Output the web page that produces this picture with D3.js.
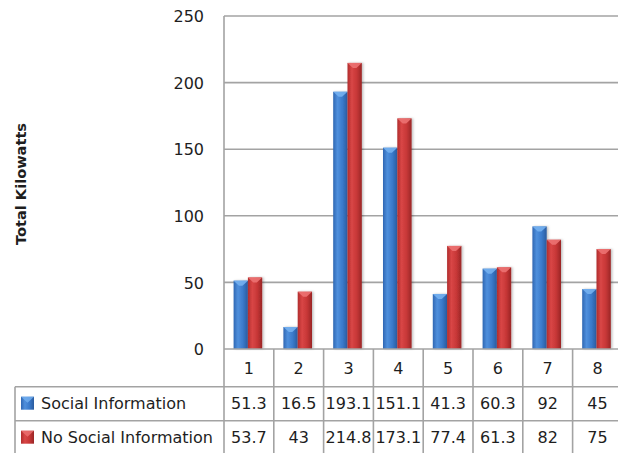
<!DOCTYPE html>
<html>
<head>
<meta charset="utf-8">
<script src="https://cdn.jsdelivr.net/npm/d3@7"></script>
<style>
  html, body { margin: 0; padding: 0; background: #fff; }
  svg { display: block; }
  text { font-family: "DejaVu Sans", sans-serif; fill: #1e1e1e; }
</style>
</head>
<body>
<svg id="chart" width="618" height="453"></svg>
<script>
// Energy use per household group, with and without social information
const categories = ["1", "2", "3", "4", "5", "6", "7", "8"];
const seriesNames = ["Social Information", "No Social Information"];
const socialInfo = [51.3, 16.5, 193.1, 151.1, 41.3, 60.3, 92, 45];
const noSocialInfo = [53.7, 43, 214.8, 173.1, 77.4, 61.3, 82, 75];
const yTicks = [0, 50, 100, 150, 200, 250];
const yTitle = "Total Kilowatts";

const seriesValues = [socialInfo, noSocialInfo];

const svg = d3.select("#chart");
const W = 618, H = 453;

const plotLeft = 224;
const colW = 49.8;
const plotRight = plotLeft + colW * categories.length;
const plotTop = 16, plotBottom = 349;
const rowH = [37.7, 34, 34];          // category row, series rows
const tableLeft = 15;
const gridColor = "#a3a3a3";

const x = d3.scaleBand().domain(categories).range([plotLeft, plotRight]).paddingInner(0).paddingOuter(0);
const xs = d3.scaleBand().domain(seriesNames).range([0, 28.6]);
const groupOffset = (colW - 28.6) / 2 - 1;
const y = d3.scaleLinear().domain([0, 250]).range([plotBottom, plotTop]);

// gradients for the shaded bars and legend keys
const defs = svg.append("defs");
const palettes = [
  { id: "g0", stops: ["#2f67b3", "#4f8fdc", "#3a7acb", "#2a5b9e"], cap: "#74b0f0" },
  { id: "g1", stops: ["#b02c2c", "#d94646", "#c73737", "#9a2626"], cap: "#ec7272" }
];
palettes.forEach(p => {
  const g = defs.append("linearGradient").attr("id", p.id)
    .attr("x1", "0%").attr("x2", "100%").attr("y1", "0%").attr("y2", "0%");
  [0, 0.3, 0.65, 1].forEach((o, i) => g.append("stop").attr("offset", o).attr("stop-color", p.stops[i]));
});
const sh = defs.append("filter").attr("id", "shadow").attr("x", "-30%").attr("y", "-10%").attr("width", "160%").attr("height", "120%");
sh.append("feDropShadow").attr("dx", 1.5).attr("dy", 0).attr("stdDeviation", 1.2).attr("flood-color", "#000").attr("flood-opacity", 0.25);

// horizontal gridlines
svg.append("g").selectAll("line").data(yTicks.filter(d => d > 0)).join("line")
  .attr("x1", plotLeft).attr("x2", W)
  .attr("y1", d => y(d)).attr("y2", d => y(d))
  .attr("stroke", gridColor).attr("stroke-width", 1.6);

// y-axis tick labels
const yAxis = d3.axisLeft(y).tickValues(yTicks).tickSize(0).tickPadding(0);
const yg = svg.append("g").attr("transform", `translate(${plotLeft - 20},0)`).call(yAxis);
yg.select(".domain").remove();
yg.selectAll("text").attr("font-size", 16).attr("font-family", "DejaVu Sans, sans-serif").attr("fill", "#1e1e1e").attr("dy", "0.35em");

// axis title
svg.append("text")
  .attr("transform", `translate(26,184) rotate(-90)`)
  .attr("text-anchor", "middle")
  .attr("font-weight", "bold").attr("font-size", 14.5)
  .attr("textLength", 122).attr("lengthAdjust", "spacingAndGlyphs")
  .text(yTitle);

// bars
const groups = svg.append("g").selectAll("g").data(categories).join("g")
  .attr("transform", d => `translate(${x(d) + groupOffset},0)`);

groups.each(function (cat, ci) {
  const g = d3.select(this);
  seriesNames.forEach((s, si) => {
    const v = seriesValues[si][ci];
    const bx = xs(s), bw = xs.bandwidth();
    const top = y(v);
    g.append("rect")
      .attr("x", bx).attr("y", top).attr("width", bw).attr("height", y(0) - top)
      .attr("fill", `url(#${palettes[si].id})`)
      .attr("filter", "url(#shadow)");
    // bevelled top cap
    const capH = Math.min(5, y(0) - top);
    g.append("path")
      .attr("d", `M${bx},${top} L${bx + bw},${top} L${bx + bw * 0.62},${top + capH} L${bx + bw * 0.38},${top + capH} Z`)
      .attr("fill", palettes[si].cap).attr("opacity", 0.9);
  });
});

// data table
const tbl = svg.append("g");
const rowTops = [plotBottom, plotBottom + rowH[0], plotBottom + rowH[0] + rowH[1]];
const tableBottom = rowTops[2] + rowH[2];

// baseline / axis line and row separators
tbl.append("line").attr("x1", plotLeft).attr("x2", W).attr("y1", plotBottom).attr("y2", plotBottom)
  .attr("stroke", gridColor).attr("stroke-width", 1.6);
[rowTops[1], rowTops[2]].forEach(yy => {
  tbl.append("line").attr("x1", tableLeft).attr("x2", W).attr("y1", yy).attr("y2", yy)
    .attr("stroke", gridColor).attr("stroke-width", 1.6);
});
// left vertical axis line
tbl.append("line").attr("x1", plotLeft).attr("x2", plotLeft).attr("y1", plotTop).attr("y2", H)
  .attr("stroke", gridColor).attr("stroke-width", 1.6);
// table left border
tbl.append("line").attr("x1", tableLeft).attr("x2", tableLeft).attr("y1", rowTops[1]).attr("y2", H)
  .attr("stroke", gridColor).attr("stroke-width", 1.6);
// column separators
tbl.selectAll("line.col").data(categories.slice(1)).join("line").attr("class", "col")
  .attr("x1", d => x(d)).attr("x2", d => x(d)).attr("y1", plotBottom).attr("y2", H)
  .attr("stroke", gridColor).attr("stroke-width", 1.6);

// category labels
tbl.selectAll("text.cat").data(categories).join("text").attr("class", "cat")
  .attr("x", d => x(d) + colW / 2).attr("y", rowTops[0] + rowH[0] / 2 + 1)
  .attr("dy", "0.35em").attr("text-anchor", "middle").attr("font-size", 16)
  .text(d => d);

// series rows
seriesNames.forEach((s, si) => {
  const cy = rowTops[si + 1] + rowH[si + 1] / 2;
  tbl.append("rect")
    .attr("x", 21).attr("y", cy - 7).attr("width", 13).attr("height", 13)
    .attr("fill", `url(#${palettes[si].id})`);
  tbl.append("path")
    .attr("d", `M21,${cy - 7} L34,${cy - 7} L27.5,${cy - 1} Z`)
    .attr("fill", palettes[si].cap).attr("opacity", 0.8);
  tbl.append("text").attr("x", 41).attr("y", cy).attr("dy", "0.35em")
    .attr("font-size", 16).text(s);
  tbl.selectAll(`text.v${si}`).data(seriesValues[si]).join("text").attr("class", `v${si}`)
    .attr("x", (d, i) => x(categories[i]) + colW / 2).attr("y", cy).attr("dy", "0.35em")
    .attr("text-anchor", "middle").attr("font-size", 16)
    .text(d => d);
});
</script>
</body>
</html>
